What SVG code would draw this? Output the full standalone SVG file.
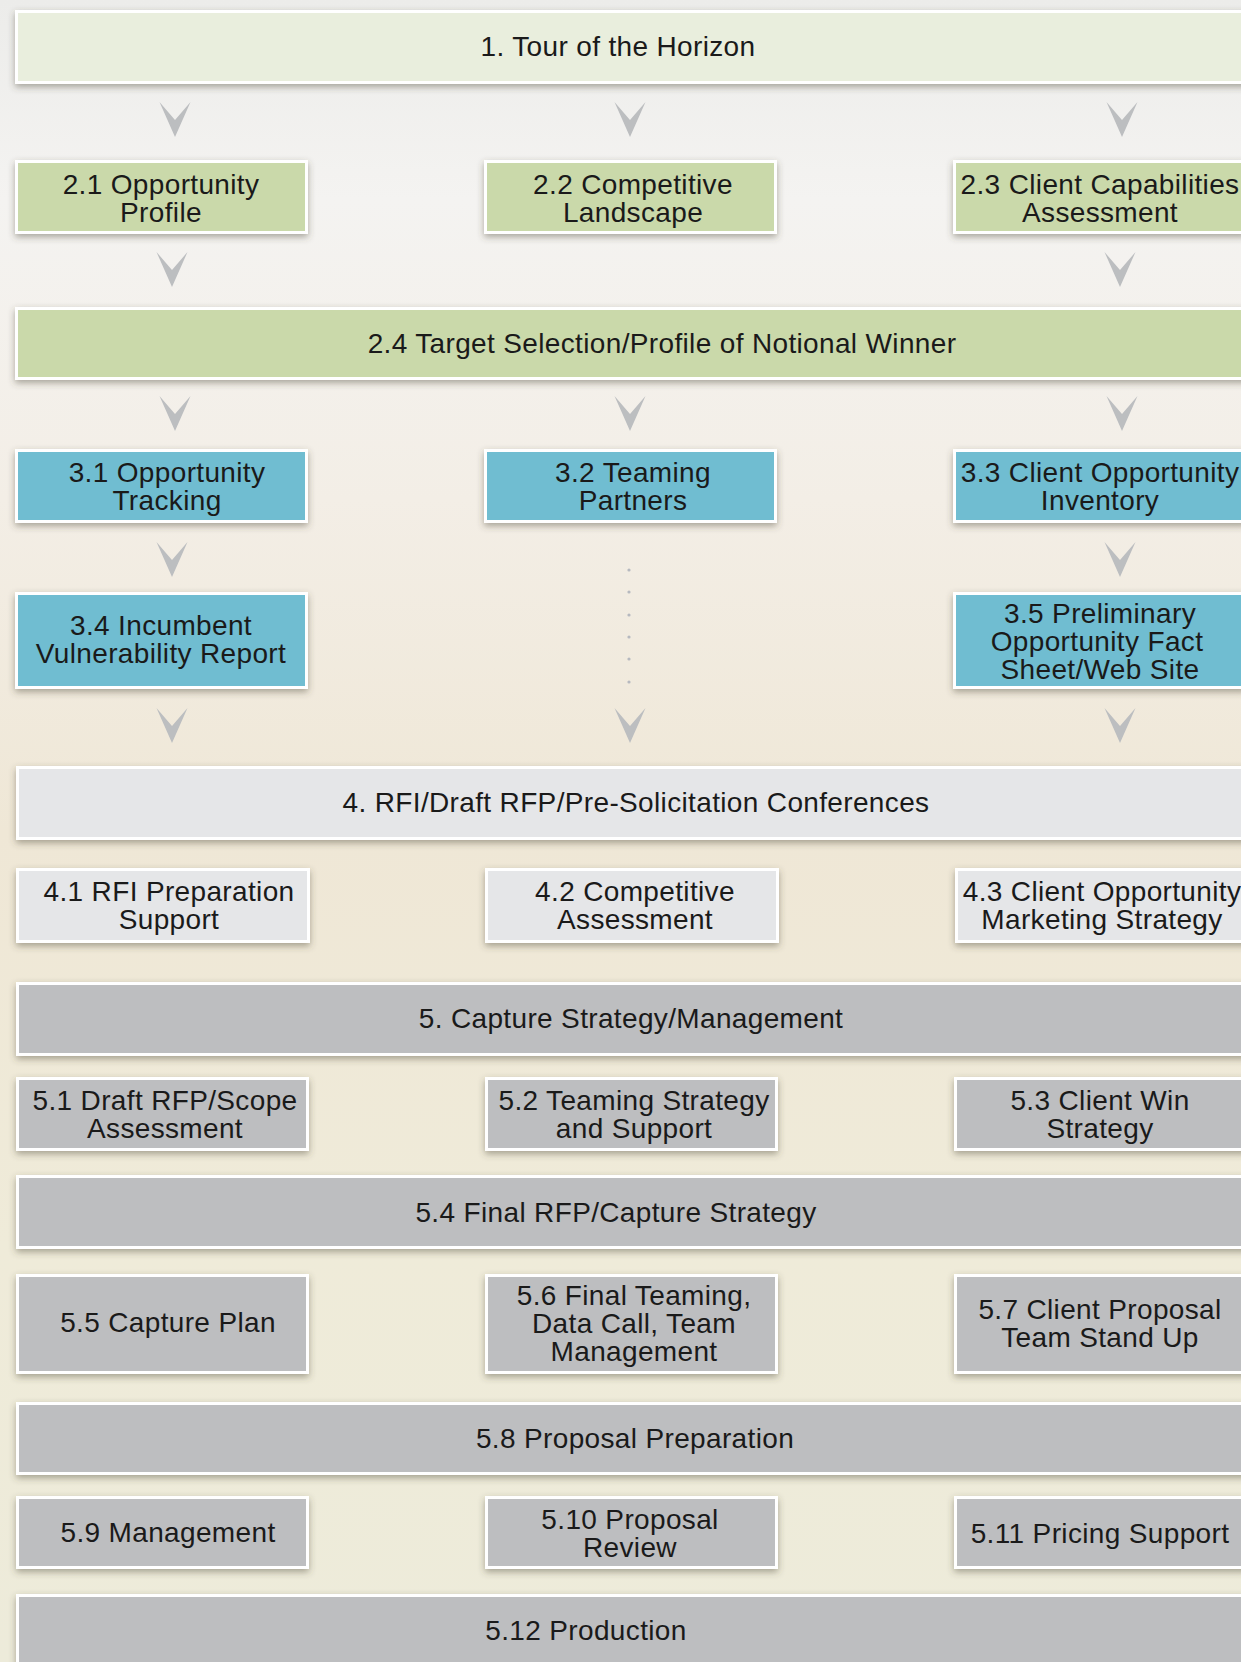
<svg xmlns="http://www.w3.org/2000/svg" width="1241" height="1662" viewBox="0 0 1241 1662">
<defs>
<linearGradient id="bg" x1="0" y1="0" x2="0" y2="1">
<stop offset="0" stop-color="#ECECEA"/>
<stop offset="0.12" stop-color="#F4F3F1"/>
<stop offset="0.3" stop-color="#F3EEE6"/>
<stop offset="0.5" stop-color="#EFE7D6"/>
<stop offset="0.75" stop-color="#EFEBD9"/>
<stop offset="1" stop-color="#EDEBDA"/>
</linearGradient>
<filter id="sh" x="-10%" y="-30%" width="120%" height="170%">
<feDropShadow dx="0" dy="3" stdDeviation="3.5" flood-color="#4a4535" flood-opacity="0.45"/>
</filter>
<path id="chev" d="M-15.5 0 L0 18 L15.5 0 L0 35 Z"/>
</defs>
<style>
.b{stroke:#FFFFFF;stroke-width:3;filter:url(#sh)}
.top{fill:#E9EEDD}
.g{fill:#CAD9AA}
.bl{fill:#70BDD1}
.lg{fill:#E5E6E8}
.dg{fill:#BDBEC0}
.t{font-family:"Liberation Sans",Arial,sans-serif;font-size:28px;letter-spacing:0.35px;fill:#1A1A1A;text-anchor:middle}
.ar{fill:#BCBEC0}
.dot{fill:#B6B9BF}
</style>
<rect x="0" y="0" width="1241" height="1662" fill="url(#bg)"/>

<g id="connectors">
<use href="#chev" class="ar" x="175" y="102"/>
<use href="#chev" class="ar" x="630" y="102"/>
<use href="#chev" class="ar" x="1122" y="102"/>
<use href="#chev" class="ar" x="172" y="252"/>
<use href="#chev" class="ar" x="1120" y="252"/>
<use href="#chev" class="ar" x="175" y="396"/>
<use href="#chev" class="ar" x="630" y="396"/>
<use href="#chev" class="ar" x="1122" y="396"/>
<use href="#chev" class="ar" x="172" y="542"/>
<use href="#chev" class="ar" x="1120" y="542"/>
<circle class="dot" cx="629" cy="570" r="1.6"/>
<circle class="dot" cx="629" cy="592" r="1.6"/>
<circle class="dot" cx="629" cy="615" r="1.6"/>
<circle class="dot" cx="629" cy="637" r="1.6"/>
<circle class="dot" cx="629" cy="659" r="1.6"/>
<circle class="dot" cx="629" cy="682" r="1.6"/>
<use href="#chev" class="ar" x="172" y="708"/>
<use href="#chev" class="ar" x="630" y="708"/>
<use href="#chev" class="ar" x="1120" y="708"/>
</g>

<g id="n1"><rect class="b top" x="16.5" y="11.5" width="1240" height="71"/><text class="t" x="618" y="56">1. Tour of the Horizon</text></g>

<g id="n2_1"><rect class="b g" x="16.5" y="161.5" width="290" height="71"/><text class="t" x="161" y="194">2.1 Opportunity</text><text class="t" x="161" y="222">Profile</text></g>
<g id="n2_2"><rect class="b g" x="485.5" y="161.5" width="290" height="71"/><text class="t" x="633" y="194">2.2 Competitive</text><text class="t" x="633" y="222">Landscape</text></g>
<g id="n2_3"><rect class="b g" x="954.5" y="161.5" width="291" height="71"/><text class="t" x="1100" y="194">2.3 Client Capabilities</text><text class="t" x="1100" y="222">Assessment</text></g>

<g id="n2_4"><rect class="b g" x="16.5" y="308.5" width="1240" height="70"/><text class="t" x="662" y="353">2.4 Target Selection/Profile of Notional Winner</text></g>

<g id="n3_1"><rect class="b bl" x="16.5" y="450.5" width="290" height="71"/><text class="t" x="167" y="482">3.1 Opportunity</text><text class="t" x="167" y="510">Tracking</text></g>
<g id="n3_2"><rect class="b bl" x="485.5" y="450.5" width="290" height="71"/><text class="t" x="633" y="482">3.2 Teaming</text><text class="t" x="633" y="510">Partners</text></g>
<g id="n3_3"><rect class="b bl" x="954.5" y="450.5" width="291" height="71"/><text class="t" x="1100" y="482">3.3 Client Opportunity</text><text class="t" x="1100" y="510">Inventory</text></g>

<g id="n3_4"><rect class="b bl" x="16.5" y="593.5" width="290" height="94"/><text class="t" x="161" y="635">3.4 Incumbent</text><text class="t" x="161" y="663">Vulnerability Report</text></g>
<g id="n3_5"><rect class="b bl" x="954.5" y="593.5" width="291" height="94"/><text class="t" x="1100" y="623">3.5 Preliminary</text><text class="t" x="1097" y="651">Opportunity Fact</text><text class="t" x="1100" y="679">Sheet/Web Site</text></g>

<g id="n4"><rect class="b lg" x="17.5" y="767.5" width="1240" height="71"/><text class="t" x="636" y="812">4. RFI/Draft RFP/Pre-Solicitation Conferences</text></g>

<g id="n4_1"><rect class="b lg" x="17.5" y="869.5" width="291" height="72"/><text class="t" x="169" y="901">4.1 RFI Preparation</text><text class="t" x="169" y="929">Support</text></g>
<g id="n4_2"><rect class="b lg" x="486.5" y="869.5" width="291" height="72"/><text class="t" x="635" y="901">4.2 Competitive</text><text class="t" x="635" y="929">Assessment</text></g>
<g id="n4_3"><rect class="b lg" x="956.5" y="869.5" width="291" height="72"/><text class="t" x="1102" y="901">4.3 Client Opportunity</text><text class="t" x="1102" y="929">Marketing Strategy</text></g>

<g id="n5"><rect class="b dg" x="17.5" y="983.5" width="1240" height="71"/><text class="t" x="631" y="1028">5. Capture Strategy/Management</text></g>

<g id="n5_1"><rect class="b dg" x="17.5" y="1078.5" width="290" height="71"/><text class="t" x="165" y="1110">5.1 Draft RFP/Scope</text><text class="t" x="165" y="1138">Assessment</text></g>
<g id="n5_2"><rect class="b dg" x="486.5" y="1078.5" width="290" height="71"/><text class="t" x="634" y="1110">5.2 Teaming Strategy</text><text class="t" x="634" y="1138">and Support</text></g>
<g id="n5_3"><rect class="b dg" x="955.5" y="1078.5" width="291" height="71"/><text class="t" x="1100" y="1110">5.3 Client Win</text><text class="t" x="1100" y="1138">Strategy</text></g>

<g id="n5_4"><rect class="b dg" x="17.5" y="1176.5" width="1240" height="71"/><text class="t" x="616" y="1222">5.4 Final RFP/Capture Strategy</text></g>

<g id="n5_5"><rect class="b dg" x="17.5" y="1275.5" width="290" height="97"/><text class="t" x="168" y="1332">5.5 Capture Plan</text></g>
<g id="n5_6"><rect class="b dg" x="486.5" y="1275.5" width="290" height="97"/><text class="t" x="634" y="1305">5.6 Final Teaming,</text><text class="t" x="634" y="1333">Data Call, Team</text><text class="t" x="634" y="1361">Management</text></g>
<g id="n5_7"><rect class="b dg" x="955.5" y="1275.5" width="291" height="97"/><text class="t" x="1100" y="1319">5.7 Client Proposal</text><text class="t" x="1100" y="1347">Team Stand Up</text></g>

<g id="n5_8"><rect class="b dg" x="17.5" y="1403.5" width="1240" height="70"/><text class="t" x="635" y="1448">5.8 Proposal Preparation</text></g>

<g id="n5_9"><rect class="b dg" x="17.5" y="1497.5" width="290" height="70"/><text class="t" x="168" y="1542">5.9 Management</text></g>
<g id="n5_10"><rect class="b dg" x="486.5" y="1497.5" width="290" height="70"/><text class="t" x="630" y="1529">5.10 Proposal</text><text class="t" x="630" y="1557">Review</text></g>
<g id="n5_11"><rect class="b dg" x="955.5" y="1497.5" width="291" height="70"/><text class="t" x="1100" y="1543">5.11 Pricing Support</text></g>

<g id="n5_12"><rect class="b dg" x="17.5" y="1595.5" width="1240" height="80"/><text class="t" x="586" y="1640">5.12 Production</text></g>
</svg>
